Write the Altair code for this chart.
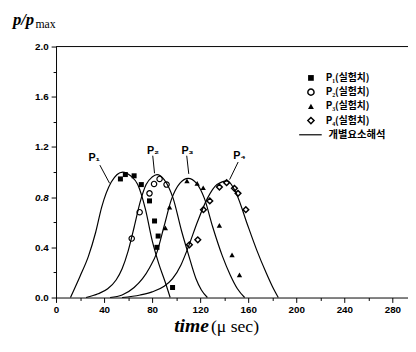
import altair as alt
import pandas as pd

# ---------------- data ----------------
series_names = ["P1", "P2", "P3", "P4"]

# analytic curves (개별요소해석)
p1_t = [12, 20, 27, 33, 38, 46, 55.5, 62, 68, 74.5, 80, 85.5, 91, 95]
p1_v = [0, 0.17, 0.33, 0.52, 0.72, 0.92, 1.0, 0.97, 0.9, 0.7, 0.455, 0.27, 0.12, 0]
p2_t = [25, 35, 43, 50, 55, 60, 65, 70, 75, 80, 84, 90, 97.5, 104.5, 110, 116.5, 121, 126]
p2_v = [0, 0.03, 0.07, 0.14, 0.23, 0.37, 0.56, 0.76, 0.9, 0.96, 0.98, 0.94, 0.79, 0.53, 0.35, 0.15, 0.06, 0]
p3_t = [45, 55, 65, 72, 78, 84, 90, 96, 103, 110, 117, 123.5, 130.5, 138.5, 145, 151, 157]
p3_v = [0, 0.02, 0.08, 0.15, 0.24, 0.36, 0.57, 0.78, 0.91, 0.95, 0.91, 0.79, 0.56, 0.33, 0.18, 0.07, 0]
p4_t = [55, 70, 80, 90, 97, 104, 110, 118, 126, 134, 142.5, 150.5, 159, 167, 175, 180, 185]
p4_v = [0, 0.02, 0.045, 0.09, 0.15, 0.26, 0.4, 0.61, 0.79, 0.9, 0.93, 0.82, 0.59, 0.38, 0.195, 0.09, 0]

# measurements (실험치)
m1_t = [53.6, 57.7, 65, 71, 77.8, 82, 85, 84, 97]
m1_v = [0.945, 0.98, 0.97, 0.9, 0.77, 0.61, 0.49, 0.40, 0.08]
m2_t = [63, 69.6, 77.8, 81.6, 86.2, 92]
m2_v = [0.47, 0.68, 0.83, 0.905, 0.945, 0.90]
m3_t = [91, 94.5, 109, 117.5, 122.5, 136, 146.5, 152.7]
m3_v = [0.555, 0.72, 0.93, 0.91, 0.875, 0.575, 0.34, 0.18]
m4_t = [111, 118, 122.7, 128, 136, 142, 148.5, 151.5, 158]
m4_v = [0.42, 0.46, 0.70, 0.77, 0.88, 0.915, 0.87, 0.83, 0.70]

# curve labels and leader lines
label_text = ["P\u2081", "P\u2082", "P\u2083", "P\u2084"]
label_t = [31.8, 80.8, 109.4, 152.7]
label_v = [1.11, 1.165, 1.17, 1.125]
leader_t1 = [36.5, 80.5, 108.8, 151.6]
leader_v1 = [1.055, 1.13, 1.13, 1.08]
leader_t2 = [44.6, 82, 110.5, 144.5]
leader_v2 = [0.91, 0.99, 0.985, 0.94]

x_ticks = list(range(0, 281, 20))
y_ticks = [round(i * 0.2, 1) for i in range(11)]

legend_labels = ["P\u2081(실험치)", "P\u2082(실험치)", "P\u2083(실험치)", "P\u2084(실험치)", "개별요소해석"]
y_title_main = "p/p"
y_title_sub = "max"
x_title_main = "time"
x_title_unit = "(\u03bc sec)"

# ---------------- layout ----------------
W, H = 359, 256
PAD = {"left": 49, "top": 36, "right": 0, "bottom": 40}

curve_rows = []
for name, ts, vs in zip(series_names, [p1_t, p2_t, p3_t, p4_t], [p1_v, p2_v, p3_v, p4_v]):
    for i, (t, v) in enumerate(zip(ts, vs)):
        curve_rows.append({"series": name, "t": t, "v": v, "order": i})
curves = pd.DataFrame(curve_rows)

def mdf(ts, vs):
    return pd.DataFrame({"t": ts, "v": vs})

x_scale = alt.Scale(domain=[0, 293], nice=False, zero=False)
y_scale = alt.Scale(domain=[0, 2.0], nice=False)

x_axis = alt.Axis(
    values=x_ticks, title=None, grid=False,
    labelExpr="datum.value % 40 == 0 ? datum.label : ''",
    tickSize={"condition": {"test": "datum.value % 40 != 0", "value": 3}, "value": 5},
    labelPadding=2, labelFlush=False, labelOverlap=False,
)
y_axis = alt.Axis(
    values=y_ticks, title=None, grid=False, format=".1f",
    labelExpr="round(datum.value * 10) % 4 == 0 ? datum.label : ''",
    tickSize={"condition": {"test": "round(datum.value * 10) % 4 != 0", "value": 3}, "value": 5},
    labelFontStyle={"condition": {"test": "abs(datum.value - 0.8) < 0.01", "value": "italic"}, "value": "normal"},
    labelPadding=3, labelFlush=False, labelOverlap=False,
)
X = alt.X("t:Q", scale=x_scale, axis=x_axis)
Y = alt.Y("v:Q", scale=y_scale, axis=y_axis)

lines = alt.Chart(curves).mark_line(color="black", strokeWidth=1.2, interpolate="monotone").encode(
    x=X, y=Y, detail="series:N", order="order:Q"
)

pts1 = alt.Chart(mdf(m1_t, m1_v)).mark_point(shape="square", filled=True, color="black", size=26, opacity=1).encode(x=X, y=Y)
pts2 = alt.Chart(mdf(m2_t, m2_v)).mark_point(shape="circle", filled=False, color="black", size=30, strokeWidth=1.2, opacity=1).encode(x=X, y=Y)
pts3 = alt.Chart(mdf(m3_t, m3_v)).mark_point(shape="triangle-up", filled=True, color="black", size=30, opacity=1).encode(x=X, y=Y)
pts4 = alt.Chart(mdf(m4_t, m4_v)).mark_point(shape="diamond", filled=False, color="black", size=34, strokeWidth=1.5, opacity=1).encode(x=X, y=Y)

lab_df = pd.DataFrame({"txt": label_text, "t": label_t, "v": label_v})
labels = alt.Chart(lab_df).mark_text(font="Liberation Sans", fontWeight="bold", fontSize=11, color="black").encode(
    x=X, y=Y, text="txt:N"
)
lead_df = pd.DataFrame({"t": leader_t1, "v": leader_v1, "t2": leader_t2, "v2": leader_v2})
leaders = alt.Chart(lead_df).mark_rule(color="black", strokeWidth=1).encode(
    x=X, y=Y, x2="t2:Q", y2="v2:Q"
)

# top frame line
top = alt.Chart(pd.DataFrame({"a": [0]})).mark_rule(color="black", strokeWidth=1).encode(
    x=alt.value(0), x2=alt.value(W), y=alt.value(0)
)

# legend (manual)
leg_y = [32, 46.5, 61, 75.5, 90]
leg_sym = [
    ("square", True, 34, 0),
    ("circle", False, 40, 1),
    ("triangle-up", True, 36, 2),
    ("diamond", False, 40, 3),
]
legend_layers = []
for shape, filled, size, i in leg_sym:
    legend_layers.append(
        alt.Chart(pd.DataFrame({"a": [0]})).mark_point(
            shape=shape, filled=filled, color="black", size=size, opacity=1, strokeWidth=1.5
        ).encode(x=alt.value(260), y=alt.value(leg_y[i]))
    )
    legend_layers.append(
        alt.Chart(pd.DataFrame({"txt": [legend_labels[i]]})).mark_text(
            align="left", baseline="middle", font="Noto Sans CJK KR", fontWeight="bold", fontSize=10, color="black"
        ).encode(x=alt.value(275), y=alt.value(leg_y[i]), text="txt:N")
    )
legend_layers.append(
    alt.Chart(pd.DataFrame({"a": [0]})).mark_rule(color="black", strokeWidth=1.2).encode(
        x=alt.value(248), x2=alt.value(271), y=alt.value(leg_y[4])
    )
)
legend_layers.append(
    alt.Chart(pd.DataFrame({"txt": [legend_labels[4]]})).mark_text(
        align="left", baseline="middle", font="Noto Sans CJK KR", fontWeight="bold", fontSize=10.5, color="black"
    ).encode(x=alt.value(278), y=alt.value(leg_y[4]), text="txt:N")
)

# axis titles (as text)
ytit1 = alt.Chart(pd.DataFrame({"txt": [y_title_main]})).mark_text(
    align="left", baseline="alphabetic", font="Liberation Serif", fontStyle="italic", fontWeight="bold",
    fontSize=17, color="black"
).encode(x=alt.value(-44), y=alt.value(-22), text="txt:N")
ytit2 = alt.Chart(pd.DataFrame({"txt": [y_title_sub]})).mark_text(
    align="left", baseline="alphabetic", font="Liberation Serif", fontSize=12, color="black"
).encode(x=alt.value(-21), y=alt.value(-19), text="txt:N")
xtit1 = alt.Chart(pd.DataFrame({"txt": [x_title_main]})).mark_text(
    align="right", baseline="alphabetic", font="Liberation Serif", fontStyle="italic", fontWeight="bold",
    fontSize=20, color="black"
).encode(x=alt.value(156), y=alt.value(291.5), text="txt:N")
xtit2 = alt.Chart(pd.DataFrame({"txt": [x_title_unit]})).mark_text(
    align="left", baseline="alphabetic", font="Liberation Serif", fontSize=18, color="black"
).encode(x=alt.value(158), y=alt.value(291.5), text="txt:N")

chart = alt.layer(
    lines, leaders, pts1, pts2, pts3, pts4, labels, top, *legend_layers, ytit1, ytit2, xtit1, xtit2
).properties(
    width=W, height=H,
    autosize=alt.AutoSizeParams(type="none"),
    padding=PAD,
).configure_view(stroke=None).configure_axis(
    domainColor="black", tickColor="black", labelColor="black",
    labelFont="Liberation Sans", labelFontWeight="bold", labelFontSize=10,
    domainWidth=1, tickWidth=1,
)

chart.save("out.html", embed_options={"renderer": "svg", "actions": False})
